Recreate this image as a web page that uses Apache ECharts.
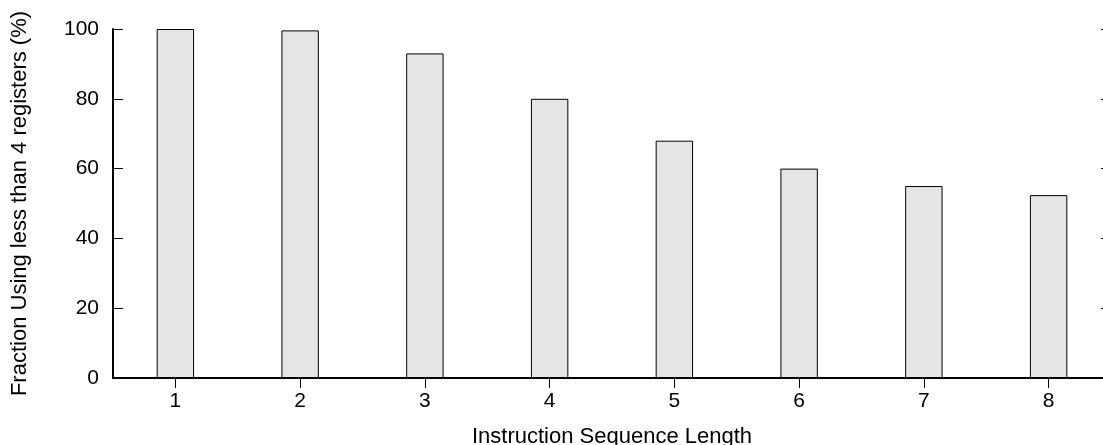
<!DOCTYPE html>
<html>
<head>
<meta charset="utf-8">
<script src="https://cdn.jsdelivr.net/npm/echarts@6/dist/echarts.min.js"></script>
<style>
html,body{margin:0;padding:0;background:#fff;}
#chart{width:1103px;height:445px;}
</style>
</head>
<body>
<div id="chart"></div>
<script>
var categories = ['1', '2', '3', '4', '5', '6', '7', '8'];
var fractionValues = [100, 99.6, 93, 80, 68, 60, 55, 52.4];
var yTicks = [0, 20, 40, 60, 80, 100];
var xTitle = 'Instruction Sequence Length';
var yTitle = 'Fraction Using less than 4 registers (%)';

var FONT = '"Liberation Sans", Arial, sans-serif';
var chart = echarts.init(document.getElementById('chart'), null, {renderer: 'canvas'});

var lineStyle = {color: '#000', width: 2};
var tickStyle = {color: '#000', width: 1};

chart.setOption({
  animation: false,
  backgroundColor: '#fff',
  grid: {left: 113, top: 29, width: 998, height: 349, containLabel: false, outerBoundsMode: 'none'},
  xAxis: [{
    type: 'category',
    data: categories,
    position: 'bottom',
    boundaryGap: true,
    axisLine: {show: true, lineStyle: lineStyle},
    axisTick: {show: true, inside: true, length: 10, alignWithLabel: true, lineStyle: tickStyle},
    axisLabel: {color: '#000', fontFamily: FONT, fontSize: 21, margin: 13},
    splitLine: {show: false},
    name: xTitle,
    nameLocation: 'middle',
    nameGap: 48,
    nameTextStyle: {color: '#000', fontFamily: FONT, fontSize: 22}
  }, {
    type: 'category',
    data: categories,
    position: 'top',
    boundaryGap: true,
    axisLine: {show: true, lineStyle: lineStyle},
    axisTick: {show: true, inside: true, length: 10, alignWithLabel: true, lineStyle: tickStyle},
    axisLabel: {show: false},
    splitLine: {show: false}
  }],
  yAxis: [{
    type: 'value',
    position: 'left',
    min: yTicks[0],
    max: yTicks[yTicks.length - 1],
    interval: yTicks[1] - yTicks[0],
    axisLine: {show: true, lineStyle: lineStyle},
    axisTick: {show: true, inside: true, length: 10, lineStyle: tickStyle},
    axisLabel: {color: '#000', fontFamily: FONT, fontSize: 21, margin: 14},
    splitLine: {show: false},
    name: yTitle,
    nameLocation: 'middle',
    nameRotate: 90,
    nameGap: 82,
    nameTextStyle: {color: '#000', fontFamily: FONT, fontSize: 22}
  }, {
    type: 'value',
    position: 'right',
    min: yTicks[0],
    max: yTicks[yTicks.length - 1],
    interval: yTicks[1] - yTicks[0],
    axisLine: {show: true, lineStyle: lineStyle},
    axisTick: {show: true, inside: true, length: 10, lineStyle: tickStyle},
    axisLabel: {show: false},
    splitLine: {show: false}
  }],
  series: [{
    type: 'bar',
    data: fractionValues,
    xAxisIndex: 0,
    yAxisIndex: 0,
    barWidth: '30%',
    itemStyle: {color: '#e5e5e5', borderColor: '#000', borderWidth: 1}
  }]
});
</script>
</body>
</html>
